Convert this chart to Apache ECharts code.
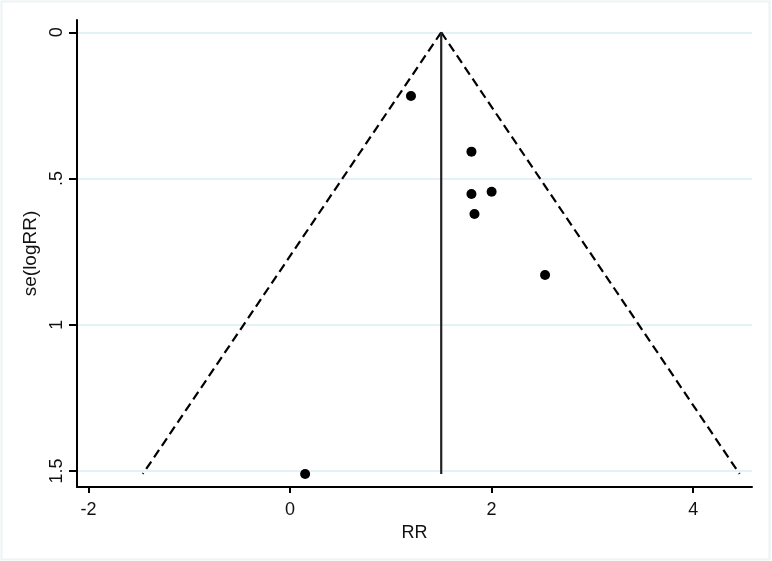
<!DOCTYPE html>
<html>
<head>
<meta charset="utf-8">
<script src="https://cdn.jsdelivr.net/npm/echarts@6/dist/echarts.min.js"></script>
<style>
html,body{margin:0;padding:0;background:#fff;}
#chart{width:772px;height:561px;}
</style>
</head>
<body>
<div id="chart"></div>
<script>
// Study estimates (RR) and standard errors se(logRR)
var studyRR = [1.20, 1.80, 1.80, 2.00, 1.83, 2.53, 0.15];
var studySE = [0.218, 0.408, 0.553, 0.545, 0.621, 0.830, 1.510];
// Pooled estimate and pseudo-95% limits at the largest se
var pooledRR = 1.5;
var seTop = 0;
var seBottom = 1.51;
var lowerLimitRR = -1.46;
var upperLimitRR = 4.46;
// Axis ticks
var xTicks = [-2, 0, 2, 4];
var yTicks = [0, 0.5, 1, 1.5];
var yTickLabels = ['0', '.5', '1', '1.5'];

var points = studyRR.map(function (r, i) { return [r, studySE[i]]; });
var font = '"Liberation Sans", Arial, Helvetica, sans-serif';
var fs = 18;

var chart = echarts.init(document.getElementById('chart'), null, {renderer: 'canvas'});
chart.setOption({
  backgroundColor: '#ffffff',
  animation: false,
  graphic: [{
    type: 'rect', silent: true, z: -10,
    shape: {x: 1.5, y: 1.5, width: 768, height: 558},
    style: {fill: 'none', stroke: '#eef3f5', lineWidth: 2}
  }],
  grid: {left: 77, right: 20, top: 20, bottom: 74, containLabel: false},
  xAxis: {
    type: 'value',
    min: -2.113, max: 4.583,
    name: 'RR', nameLocation: 'middle', nameGap: 31,
    nameTextStyle: {color: '#111', fontSize: fs, fontFamily: font},
    axisLine: {show: true, onZero: false, lineStyle: {color: '#000', width: 2}},
    axisTick: {show: true, customValues: xTicks, length: 6, lineStyle: {color: '#000', width: 2}},
    axisLabel: {customValues: xTicks, color: '#111', fontSize: fs, fontFamily: font, margin: 14},
    splitLine: {show: false}
  },
  yAxis: {
    type: 'value',
    inverse: true,
    min: -0.042, max: 1.5545,
    name: 'se(logRR)', nameLocation: 'middle', nameGap: 34, nameRotate: 90,
    nameTextStyle: {color: '#111', fontSize: 19, fontFamily: font},
    axisLine: {show: true, onZero: false, lineStyle: {color: '#000', width: 2}},
    axisTick: {show: true, customValues: yTicks, length: 8, lineStyle: {color: '#000', width: 2}},
    axisLabel: {
      customValues: yTicks, rotate: 90, color: '#111', fontSize: fs, fontFamily: font, margin: 11,
      formatter: function (v) { var i = yTicks.indexOf(v); return i >= 0 ? yTickLabels[i] : ''; }
    },
    splitLine: {show: true, lineStyle: {color: '#d9eef2', width: 1.6}}
  },
  series: [
    {
      type: 'line', name: 'lower', silent: true, symbol: 'none',
      data: [[pooledRR, seTop], [lowerLimitRR, seBottom]],
      lineStyle: {color: '#000', width: 2.2, type: [9, 5]}
    },
    {
      type: 'line', name: 'upper', silent: true, symbol: 'none',
      data: [[pooledRR, seTop], [upperLimitRR, seBottom]],
      lineStyle: {color: '#000', width: 2.2, type: [9, 5]}
    },
    {
      type: 'line', name: 'pooled', silent: true, symbol: 'none',
      data: [[pooledRR, seTop], [pooledRR, seBottom]],
      lineStyle: {color: '#222', width: 2.2}
    },
    {
      type: 'scatter', name: 'studies', silent: true,
      symbol: 'circle', symbolSize: 10,
      itemStyle: {color: '#000', opacity: 1},
      data: points, z: 5
    }
  ]
});
</script>
</body>
</html>
